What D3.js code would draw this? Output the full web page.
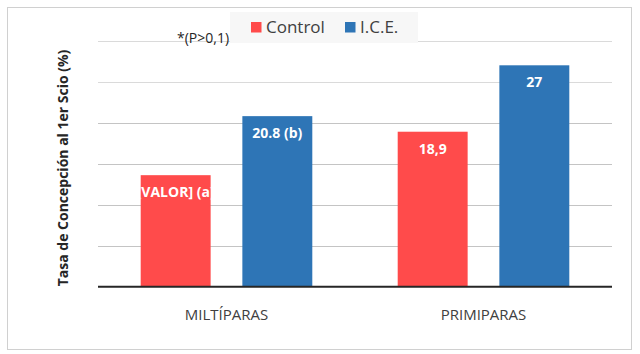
<!DOCTYPE html>
<html>
<head>
<meta charset="utf-8">
<script src="https://cdn.jsdelivr.net/npm/d3@7"></script>
<style>
body { margin: 0; background: #fff; }
svg { display: block; font-family: "Open Sans", Lato, sans-serif; }
</style>
</head>
<body>
<svg width="640" height="354"></svg>
<script>
// Chart data.
var categories = ["MILTÍPARAS", "PRIMIPARAS"];
var series = ["Control", "I.C.E."];
var controlValues = [13.6, 18.9];
var iceValues = [20.8, 27];
var controlLabels = ["[VALOR] (a)", "18,9"];
var iceLabels = ["20.8 (b)", "27"];
var yTicks = [0, 5, 10, 15, 20, 25, 30];

var colors = { "Control": "#ff4b4b", "I.C.E.": "#2e75b6" };

var svg = d3.select("svg");

// outer border
svg.append("rect")
    .attr("x", 7.5).attr("y", 7.5)
    .attr("width", 624).attr("height", 342)
    .attr("fill", "#fff")
    .attr("stroke", "#d0d0d0");

var plotLeft = 98, plotRight = 612, plotTop = 40.7, plotBottom = 286.7;

var y = d3.scaleLinear().domain([0, 30]).range([plotBottom, plotTop]);
var x0 = d3.scaleBand().domain(categories).range([plotLeft, plotRight]).padding(0);
var x1 = d3.scaleBand().domain(series).range([0, x0.bandwidth()])
    .paddingInner(0.312).paddingOuter(0.42);

// gridlines
svg.append("g").selectAll("line")
    .data(yTicks.filter(function (d) { return d > 0; }))
    .enter().append("line")
    .attr("x1", plotLeft).attr("x2", plotRight)
    .attr("y1", function (d) { return Math.round(y(d)) + 0.5; })
    .attr("y2", function (d) { return Math.round(y(d)) + 0.5; })
    .attr("stroke", function (d) { return d >= 25 ? "#dadada" : "#c4c4c4"; })
    .attr("stroke-width", 1.2);

// rows of data per bar
var bars = [];
categories.forEach(function (c, i) {
    bars.push({ cat: c, s: "Control", v: controlValues[i], label: controlLabels[i] });
    bars.push({ cat: c, s: "I.C.E.", v: iceValues[i], label: iceLabels[i] });
});

var defs = svg.append("defs");
defs.selectAll("clipPath")
    .data(bars)
    .enter().append("clipPath")
    .attr("id", function (d, i) { return "clip" + i; })
    .append("rect")
    .attr("x", function (d) { return x0(d.cat) + x1(d.s); })
    .attr("y", function (d) { return y(d.v); })
    .attr("width", x1.bandwidth())
    .attr("height", function (d) { return plotBottom - y(d.v); });

var bar = svg.append("g").selectAll("g")
    .data(bars)
    .enter().append("g");

bar.append("rect")
    .attr("x", function (d) { return x0(d.cat) + x1(d.s); })
    .attr("y", function (d) { return y(d.v); })
    .attr("width", x1.bandwidth())
    .attr("height", function (d) { return plotBottom - y(d.v); })
    .attr("fill", function (d) { return colors[d.s]; });

bar.append("text")
    .attr("clip-path", function (d, i) { return "url(#clip" + i + ")"; })
    .attr("x", function (d) { return x0(d.cat) + x1(d.s) + x1.bandwidth() / 2; })
    .attr("y", function (d) { return y(d.v) + 22; })
    .attr("text-anchor", "middle")
    .attr("fill", "#fff")
    .attr("font-weight", "bold")
    .attr("font-size", "14px")
    .text(function (d) { return d.label; });

// x axis line
svg.append("line")
    .attr("x1", plotLeft).attr("x2", plotRight)
    .attr("y1", plotBottom).attr("y2", plotBottom)
    .attr("stroke", "#262626")
    .attr("stroke-width", 2);

// category labels
svg.append("g").selectAll("text")
    .data(categories)
    .enter().append("text")
    .attr("x", function (d) { return x0(d) + x0.bandwidth() / 2; })
    .attr("y", 320)
    .attr("text-anchor", "middle")
    .attr("fill", "#404040")
    .attr("font-size", "15px")
    .text(function (d) { return d; });

// y axis title
svg.append("text")
    .attr("transform", "translate(68,168) rotate(-90)")
    .attr("text-anchor", "middle")
    .attr("fill", "#262626")
    .attr("font-weight", "bold")
    .attr("font-size", "14px")
    .text("Tasa de Concepción al 1er Scio (%)");

// significance note
svg.append("text")
    .attr("x", 177).attr("y", 43)
    .attr("fill", "#262626")
    .attr("font-size", "14px")
    .text("*(P>0,1)");

// legend
var legend = svg.append("g").attr("transform", "translate(230,12)");
legend.append("rect")
    .attr("width", 188).attr("height", 31)
    .attr("fill", "#f7f7f7");
var legX = [21, 115];
var item = legend.selectAll("g.item")
    .data(series)
    .enter().append("g")
    .attr("class", "item")
    .attr("transform", function (d, i) { return "translate(" + legX[i] + ",0)"; });
item.append("rect")
    .attr("y", 10).attr("width", 10.5).attr("height", 10.5)
    .attr("fill", function (d) { return colors[d]; });
item.append("text")
    .attr("x", 15).attr("y", 21)
    .attr("fill", "#404040")
    .attr("font-size", "17px")
    .text(function (d) { return d; });
</script>
</body>
</html>
